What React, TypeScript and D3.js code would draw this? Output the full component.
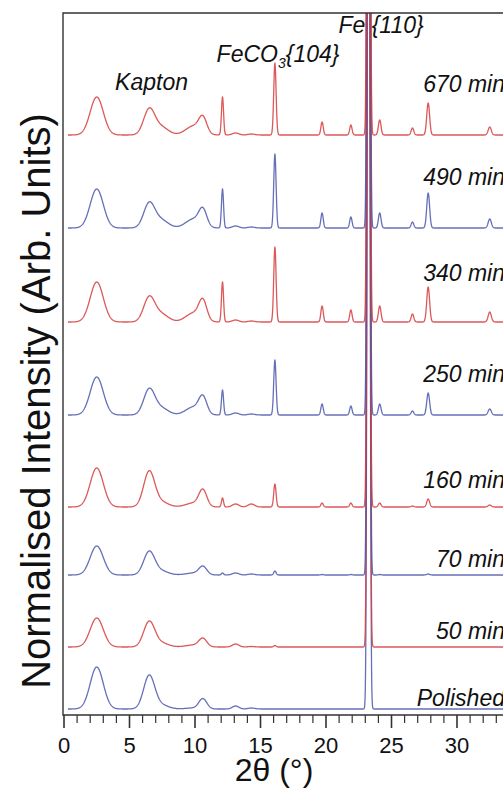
import React from 'react';
import * as d3 from 'd3';

// trace names, bottom to top
const samples = ['Polished', '50 min', '70 min', '160 min', '250 min', '340 min', '490 min', '670 min'];
const traceColors = ['blue', 'red', 'blue', 'red', 'blue', 'red', 'blue', 'red'];
// vertical offset of each trace (arb. units)
const offsets = [0, 62, 134, 202, 294, 387, 481, 574];
// label height above its trace (arb. units)
const labelLift = [3, 8, 8, 19, 33, 41, 43, 43];

// peak list (2theta, width in deg)
const peakCentres = [2.5, 6.5, 7.4, 9.9, 10.6, 12.1, 13.1, 14.3, 16.1, 19.7, 21.9, 23.25, 24.1, 26.6, 27.8, 32.5];
const peakWidths = [0.5, 0.42, 0.55, 0.6, 0.3, 0.08, 0.25, 0.25, 0.09, 0.09, 0.09, 0.085, 0.1, 0.1, 0.11, 0.12];
// peak heights per trace
const polished = [42, 33, 4, 1, 10, 0, 3, 1, 0, 0, 0, 1500, 0, 0, 0, 0];
const min50 = [29, 25, 4, 2, 8, 0, 3, 0.5, 1.5, 0, 0, 1500, 0, 0, 0, 0];
const min70 = [29, 23, 4, 2, 8, 2, 2, 1, 4, 0.5, 0.5, 1500, 0.5, 0, 1, 0];
const min160 = [39, 35, 5, 4, 16, 9, 3, 3, 23, 4, 4, 1500, 4, 1, 8, 2];
const min250 = [38, 25, 7, 8, 16, 25, 2, 1, 55, 11, 9, 1500, 11, 4, 22, 6];
const min340 = [40, 24, 8, 9, 19, 40, 2, 1, 75, 16, 12, 1500, 16, 8, 35, 10];
const min490 = [39, 24, 8, 9, 16, 39, 2, 1, 74, 15, 11, 1500, 15, 6, 35, 9];
const min670 = [38, 25, 8, 9, 15, 38, 2, 1, 72, 13, 10, 1500, 15, 7, 32, 8];
const heights = [polished, min50, min70, min160, min250, min340, min490, min670];

const xTicks = d3.range(0, 36, 1);
const xTickLabels = ['0', '5', '10', '15', '20', '25', '30'];

const RED = '#d63b3c';
const BLUE = '#4a57aa';
const FONT = '"Liberation Sans", Arial, Helvetica, sans-serif';

const W = 503, H = 789;
const x = d3.scaleLinear().domain([0, 35]).range([64, 64 + 35 * 13.1]);
const y = d3.scaleLinear().domain([0, 696]).range([709, 13]);

function profile(h: number[], off: number) {
  const pts: [number, number][] = [];
  for (let t = 0.3; t <= 38; t += 0.02) {
    let v = 0;
    peakCentres.forEach((c, i) => {
      if (h[i]) v += h[i] * Math.exp(-((t - c) ** 2) / (2 * peakWidths[i] ** 2));
    });
    pts.push([t, off + v]);
  }
  return pts;
}

const line = d3.line<[number, number]>().x(d => x(d[0])).y(d => y(d[1]));

export default function App() {
  const axisY = 715;
  const frameLeft = 63;
  const frameTop = 13;
  return (
    <svg width={W} height={H} style={{ position: 'absolute', left: 0, top: 0, background: '#fff' }} fontFamily={FONT}>
      <defs>
        <clipPath id="plot">
          <rect x={frameLeft} y={frameTop} width={600} height={axisY - frameTop} />
        </clipPath>
      </defs>
      <g clipPath="url(#plot)">
        {samples.map((s, i) => (
          <path key={s} d={line(profile(heights[i], offsets[i])) || ''} fill="none"
            stroke={traceColors[i] === 'red' ? RED : BLUE} strokeWidth={1.3} strokeOpacity={0.85}
            strokeLinejoin="round" />
        ))}
      </g>
      {/* frame */}
      <path d={`M${W + 20},${frameTop}H${frameLeft}V${axisY}H${W + 20}`} fill="none" stroke="#333" strokeWidth={1.4} />
      {/* x ticks */}
      {xTicks.map(t => (
        <line key={t} x1={x(t)} x2={x(t)} y1={axisY} y2={axisY + (t % 5 === 0 ? 13 : 8)} stroke="#333" strokeWidth={t % 5 === 0 ? 1.6 : 1.2} />
      ))}
      {xTickLabels.map(l => (
        <text key={l} x={x(+l)} y={753} fontSize={22} textAnchor="middle" fill="#111">{l}</text>
      ))}
      <text x={274} y={781} fontSize={32} textAnchor="middle" fill="#111">2θ (°)</text>
      <text transform={`translate(50,401) rotate(-90)`} fontSize={40} textAnchor="middle" fill="#111">Normalised Intensity (Arb. Units)</text>
      {/* sample labels */}
      {samples.map((s, i) => (
        <text key={s} x={505} y={y(offsets[i] + labelLift[i])} fontSize={23} fontStyle="italic" textAnchor="end" fill="#111">{s}</text>
      ))}
      {/* peak annotations */}
      <text x={x(3.9)} y={y(619)} fontSize={23} fontStyle="italic" fill="#111">Kapton</text>
      <text x={x(11.65)} y={y(647)} fontSize={23} fontStyle="italic" fill="#111">
        FeCO<tspan dy={6} fontSize={14}>3</tspan><tspan dy={-6}>{'{104}'}</tspan>
      </text>
      <text x={x(20.95)} y={y(676)} fontSize={23} fontStyle="italic" fill="#111">Fe {'{110}'}</text>
    </svg>
  );
}
